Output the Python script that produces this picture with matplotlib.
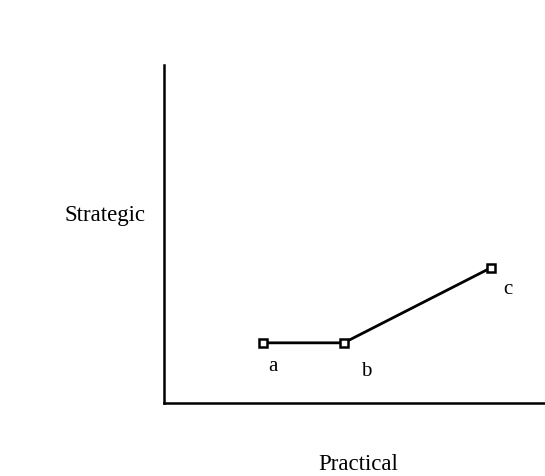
import matplotlib.pyplot as plt

plt.rcParams['font.family'] = ['Liberation Serif', 'DejaVu Serif']

labels = ['a', 'b', 'c']
xs = [2.6, 4.72, 8.58]
ys = [1.78, 1.78, 4.0]

fig = plt.figure(figsize=(5.45, 4.76), dpi=100)
ax = fig.add_axes([164 / 545, 73 / 476, 381 / 545, 338 / 476])
ax.set_xlim(0, 10)
ax.set_ylim(0, 10)

ax.plot(xs, ys, color='black', lw=2.0, marker='s', markersize=6,
        markerfacecolor='white', markeredgecolor='black', markeredgewidth=1.8)

offsets = [(0.25, -0.7), (0.6, -0.85), (0.45, -0.65)]
for lab, x, y, (dx, dy) in zip(labels, xs, ys, offsets):
    ax.text(x + dx, y + dy, lab, fontsize=15, ha='center', va='center')

for s in ['top', 'right']:
    ax.spines[s].set_visible(False)
for s in ['left', 'bottom']:
    ax.spines[s].set_linewidth(1.8)
ax.set_xticks([])
ax.set_yticks([])

fig.text(105 / 545, 1 - 216 / 476, 'Strategic', fontsize=16.5, ha='center', va='center')
fig.text(358 / 545, 1 - 465 / 476, 'Practical', fontsize=16.5, ha='center', va='center')

fig.savefig('out.png', dpi=100)
